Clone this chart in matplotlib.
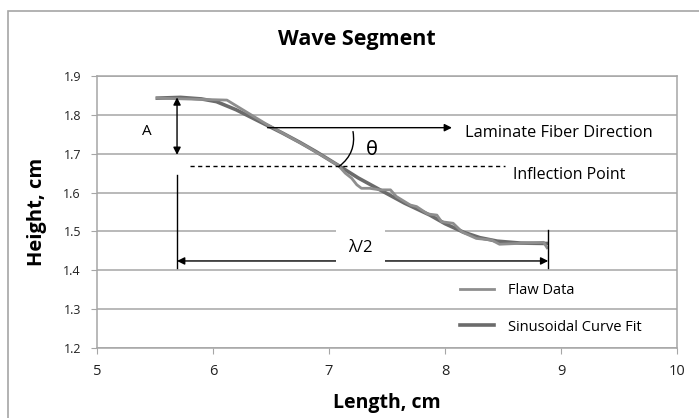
import matplotlib
matplotlib.use("Agg")
import matplotlib.pyplot as plt
from matplotlib.patches import Rectangle

# values
fit_x = [5.52, 5.72, 5.90, 6.03, 6.20, 6.32, 6.46, 6.60, 6.75, 6.89, 7.08, 7.25,
         7.44, 7.65, 7.87, 8.00, 8.16, 8.30, 8.45, 8.65, 8.88]
fit_y = [1.843, 1.845, 1.841, 1.834, 1.813, 1.795, 1.774, 1.753, 1.729, 1.705, 1.670, 1.638,
         1.607, 1.573, 1.542, 1.520, 1.498, 1.484, 1.475, 1.470, 1.469]

flaw_x = [5.52, 6.12, 6.45, 6.80, 7.08, 7.14, 7.195, 7.24, 7.28, 7.35, 7.44, 7.53, 7.58,
          7.70, 7.755, 7.85, 7.93, 7.97, 8.07, 8.15, 8.27, 8.40, 8.47, 8.62, 8.85, 8.88]
flaw_y = [1.843, 1.838, 1.778, 1.720, 1.670, 1.650, 1.637, 1.620, 1.611, 1.611, 1.607, 1.607, 1.590,
          1.568, 1.564, 1.545, 1.542, 1.525, 1.521, 1.498, 1.482, 1.478, 1.467, 1.469, 1.472, 1.458]

x_ticks = [5, 6, 7, 8, 9, 10]
y_ticks = [1.2, 1.3, 1.4, 1.5, 1.6, 1.7, 1.8, 1.9]

plt.rcParams['font.family'] = ['Open Sans', 'DejaVu Sans']

fig = plt.figure(figsize=(6.99, 4.18), dpi=100)
ax = fig.add_axes([97/699, 1 - 348/418, 580/699, 272/418])

# outer chart frame (Excel style)
fig.patches.append(Rectangle((7.5/699, -0.05), 1.2, 1.05 - 11/418, transform=fig.transFigure,
                             fill=False, edgecolor='#a6a6a6', lw=1.2))

grid_c = '#a6a6a6'
ax.set_xlim(5, 10)
ax.set_ylim(1.2, 1.9)
ax.set_xticks(x_ticks)
ax.set_yticks(y_ticks)
ax.set_yticklabels(['%.1f' % v for v in y_ticks])
ax.grid(axis='y', color=grid_c, lw=1.1)
ax.set_axisbelow(True)
for s in ax.spines.values():
    s.set_color(grid_c)
    s.set_linewidth(1.1)
ax.tick_params(length=4.5, color=grid_c, labelcolor='#222222')
ax.tick_params(axis='x', labelsize=10.5, pad=7)
ax.tick_params(axis='y', labelsize=9, pad=7)

ax.plot(fit_x, fit_y, color='#6b6b6b', lw=2.6, label='Sinusoidal Curve Fit', zorder=3)
ax.plot(flaw_x, flaw_y, color='#8e8e8e', lw=2.0, label='Flaw Data', zorder=4)

# amplitude arrow
ax.annotate('', xy=(5.69, 1.697), xytext=(5.69, 1.845),
            arrowprops=dict(arrowstyle='<|-|>', color='black', lw=1, mutation_scale=11,
                            shrinkA=0, shrinkB=0), zorder=5)
ax.text(5.43, 1.757, '  A  ', ha='center', va='center', fontsize=11, zorder=2,
        bbox=dict(facecolor='white', edgecolor='none', pad=6))

# fiber direction
ax.annotate('', xy=(8.06, 1.767), xytext=(6.47, 1.767),
            arrowprops=dict(arrowstyle='-|>', color='black', lw=1, mutation_scale=11,
                            shrinkA=0, shrinkB=0), zorder=5)
ax.text(8.17, 1.754, 'Laminate Fiber Direction', ha='left', va='center', fontsize=11.8)

# inflection line
ax.plot([5.80, 8.52], [1.668, 1.668], color='black', lw=1, ls=(0, (3, 2.5)), zorder=5)
ax.text(8.59, 1.646, 'Inflection Point', ha='left', va='center', fontsize=11.5)

# theta
ax.annotate('', xy=(7.207, 1.757), xytext=(7.09, 1.668),
            arrowprops=dict(arrowstyle='-', color='black', lw=1,
                            connectionstyle='arc3,rad=0.3', shrinkA=0, shrinkB=0), zorder=5)
ax.text(7.37, 1.712, 'θ', ha='center', va='center', fontsize=14, family='DejaVu Sans')

# half wavelength
ax.plot([5.69, 5.69], [1.406, 1.645], color='black', lw=1, zorder=5)
ax.plot([8.89, 8.89], [1.406, 1.504], color='black', lw=1, zorder=5)
ax.annotate('', xy=(8.89, 1.424), xytext=(5.69, 1.424),
            arrowprops=dict(arrowstyle='<|-|>', color='black', lw=1, mutation_scale=11,
                            shrinkA=0, shrinkB=0), zorder=5)
ax.text(7.27, 1.458, 'λ/2', ha='center', va='center', fontsize=12, zorder=6,
        bbox=dict(facecolor='white', edgecolor='none', pad=9))

handles, labels = ax.get_legend_handles_labels()
ax.legend(handles[::-1], labels[::-1], loc='upper left', bbox_to_anchor=(0.626, 0.24),
          frameon=False, fontsize=10.5, labelspacing=1.5, handlelength=2.33,
          handletextpad=0.95, borderpad=0, borderaxespad=0)

ax.set_xlabel('Length, cm', fontsize=14, fontweight='bold', labelpad=10)
ax.set_ylabel('Height, cm', fontsize=14.5, fontweight='bold', labelpad=12)
fig.text(357/699, 1 - 39/418, 'Wave Segment', ha='center', va='center',
         fontsize=15.5, fontweight='bold')

fig.savefig('out.png', dpi=100)
